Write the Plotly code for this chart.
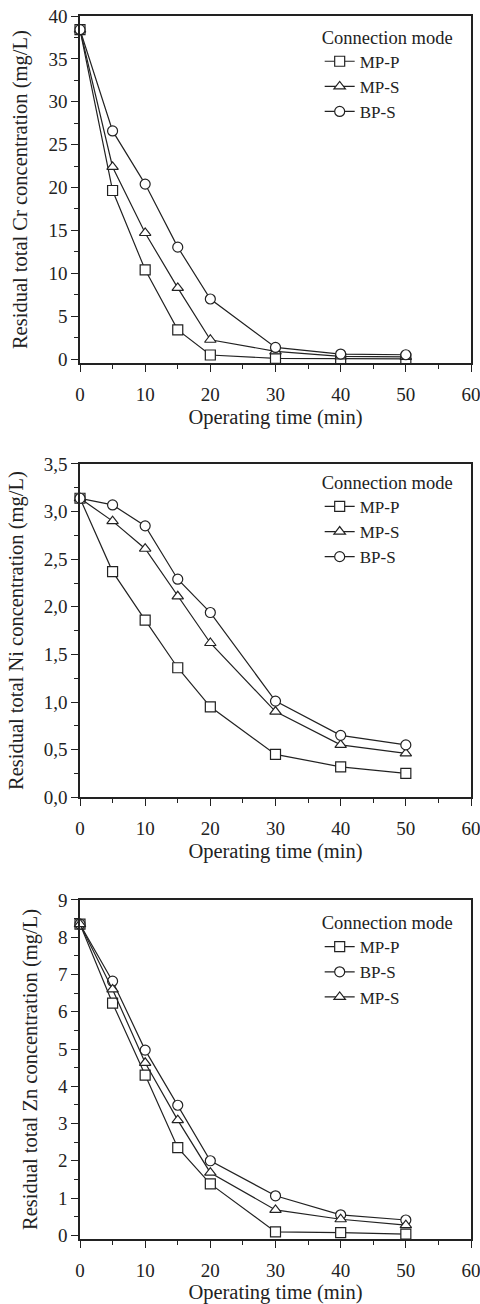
import plotly.graph_objects as go

time = [0, 5, 10, 15, 20, 30, 40, 50]

# Cr panel
cr_mpp = [38.4, 19.65, 10.4, 3.4, 0.47, 0.08, 0.05, 0.03]
cr_mps = [38.4, 22.4, 14.7, 8.3, 2.25, 0.9, 0.3, 0.25]
cr_bps = [38.4, 26.6, 20.4, 13.05, 7.0, 1.35, 0.58, 0.5]

# Ni panel
ni_mpp = [3.14, 2.37, 1.86, 1.36, 0.95, 0.45, 0.32, 0.25]
ni_mps = [3.14, 2.90, 2.61, 2.11, 1.62, 0.90, 0.55, 0.46]
ni_bps = [3.14, 3.07, 2.85, 2.29, 1.94, 1.01, 0.65, 0.55]

# Zn panel
zn_mpp = [8.35, 6.23, 4.30, 2.35, 1.38, 0.09, 0.07, 0.03]
zn_bps = [8.35, 6.82, 4.97, 3.49, 2.00, 1.06, 0.55, 0.41]
zn_mps = [8.35, 6.60, 4.63, 3.09, 1.68, 0.68, 0.43, 0.27]

x_ticks = [0, 10, 20, 30, 40, 50, 60]
cr_ticks = [0, 5, 10, 15, 20, 25, 30, 35, 40]
ni_ticks = [0, 0.5, 1.0, 1.5, 2.0, 2.5, 3.0, 3.5]
ni_ticktext = ["0,0", "0,5", "1,0", "1,5", "2,0", "2,5", "3,0", "3,5"]
zn_ticks = [0, 1, 2, 3, 4, 5, 6, 7, 8, 9]

FONT = "Liberation Serif"
INK = "#222222"

def trace(x, y, name, symbol, xa, ya, legend):
    return go.Scatter(
        x=x, y=y, name=name, mode="lines+markers",
        line=dict(color=INK, width=1.2),
        marker=dict(symbol=symbol, size=10, color="white",
                    line=dict(color=INK, width=1.2)),
        xaxis=xa, yaxis=ya, legend=legend, cliponaxis=False,
    )

fig = go.Figure()
fig.add_trace(trace(time, cr_mpp, "MP-P", "square", "x", "y", "legend"))
fig.add_trace(trace(time, cr_mps, "MP-S", "triangle-up", "x", "y", "legend"))
fig.add_trace(trace(time, cr_bps, "BP-S", "circle", "x", "y", "legend"))

fig.add_trace(trace(time, ni_mpp, "MP-P", "square", "x2", "y2", "legend2"))
fig.add_trace(trace(time, ni_mps, "MP-S", "triangle-up", "x2", "y2", "legend2"))
fig.add_trace(trace(time, ni_bps, "BP-S", "circle", "x2", "y2", "legend2"))

fig.add_trace(trace(time, zn_mpp, "MP-P", "square", "x3", "y3", "legend3"))
fig.add_trace(trace(time, zn_bps, "BP-S", "circle", "x3", "y3", "legend3"))
fig.add_trace(trace(time, zn_mps, "MP-S", "triangle-up", "x3", "y3", "legend3"))

tickfont = dict(family=FONT, size=19, color=INK)
titlefont = dict(family=FONT, size=20.5, color=INK)

def xaxis(anchor):
    return dict(
        anchor=anchor, domain=[0, 1], range=[0, 60], automargin=False,
        tickvals=x_ticks, ticks="outside", ticklen=7, tickwidth=1.2, tickcolor=INK,
        ticklabeloverflow="allow", ticklabelstandoff=6,
        minor=dict(dtick=5, tick0=0, ticks="outside", ticklen=4, tickcolor=INK, tickwidth=1),
        showline=True, linecolor=INK, linewidth=1.5, mirror=True,
        showgrid=False, zeroline=False, tickfont=tickfont,
        title=dict(text="Operating time (min)", font=titlefont, standoff=6),
    )

def yaxis(anchor, domain, rng, tickvals, minor_dtick, title, ticktext=None):
    d = dict(
        anchor=anchor, domain=domain, range=rng, automargin=False,
        tickvals=tickvals, ticks="outside", ticklen=7, tickwidth=1.2, tickcolor=INK,
        ticklabeloverflow="allow",
        minor=dict(dtick=minor_dtick, tick0=0, ticks="outside", ticklen=4, tickcolor=INK, tickwidth=1),
        showline=True, linecolor=INK, linewidth=1.5, mirror=True,
        showgrid=False, zeroline=False, tickfont=tickfont,
        title=dict(text=title, font=titlefont, standoff=15),
    )
    if ticktext is not None:
        d["ticktext"] = ticktext
    return d

legend_common = dict(
    font=dict(family=FONT, size=17, color=INK),
    title=dict(text="Connection mode", font=dict(family=FONT, size=18.5, color=INK)),
    bgcolor="rgba(0,0,0,0)", borderwidth=0,
    xanchor="left", yanchor="top", x=0.613, tracegroupgap=0, itemwidth=30,
)

fig.update_layout(
    width=480, height=1304,
    margin=dict(l=80, r=9, t=16, b=65, autoexpand=False),
    paper_bgcolor="white", plot_bgcolor="white",
    showlegend=True,
    xaxis=xaxis("y"),
    yaxis=yaxis("x", [0.716, 1.0], [-0.5, 40], cr_ticks, 2.5,
                "Residual total Cr concentration (mg/L)"),
    xaxis2=xaxis("y2"),
    yaxis2=yaxis("x2", [0.3612, 0.6337], [0, 3.5], ni_ticks, 0.25,
                 "Residual total Ni concentration (mg/L)", ni_ticktext),
    xaxis3=xaxis("y3"),
    yaxis3=yaxis("x3", [0, 0.2772], [-0.1, 9], zn_ticks, 0.5,
                 "Residual total Zn concentration (mg/L)"),
    legend=dict(legend_common, y=0.997),
    legend2=dict(legend_common, y=0.633),
    legend3=dict(legend_common, y=0.273),
)

fig.write_html("out.html", config={"displayModeBar": False},
               post_script="document.body.style.margin='0';")
